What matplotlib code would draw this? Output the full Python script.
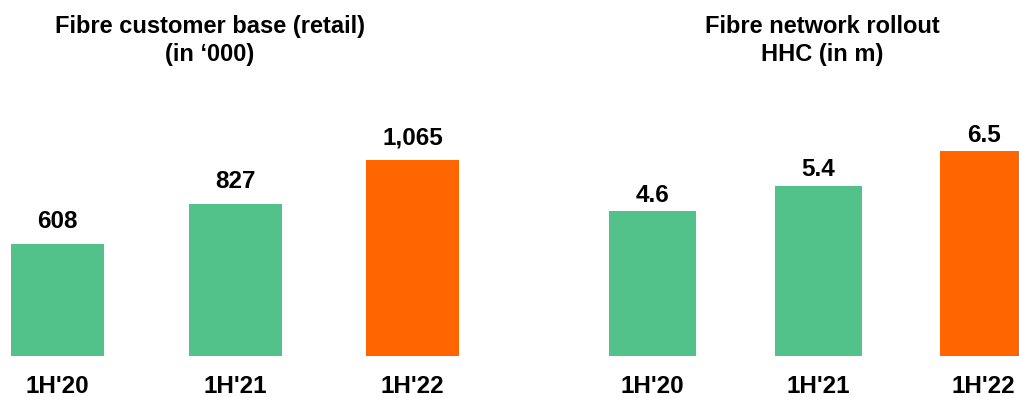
import matplotlib.pyplot as plt

# ── Data ───────────────────────────────────────────────────────────────────────
periods = ["1H'20", "1H'21", "1H'22"]
customers = [608, 827, 1065]           # in '000
customer_labels = ["608", "827", "1,065"]
homes = [4.6, 5.4, 6.5]                # HHC in m
home_labels = ["4.6", "5.4", "6.5"]

GREEN = "#52C18A"
ORANGE = "#FF6600"
colours = [GREEN, GREEN, ORANGE]

plt.rcParams["font.family"] = ["Liberation Sans", "DejaVu Sans"]
plt.rcParams["font.weight"] = "bold"

W, H = 1020, 398
fig = plt.figure(figsize=(W / 100, H / 100), dpi=100)

BASE = 42.5   # baseline, px from bottom
TOP = 300.0   # axes top, px from bottom
FS = 17.5


def panel(x0, x1, centre0, step, px_per_unit, values, labels, width, lab_gap):
    ax = fig.add_axes([x0 / W, BASE / H, (x1 - x0) / W, (TOP - BASE) / H])
    ax.set_xlim((x0 - centre0) / step, (x1 - centre0) / step)
    ax.set_ylim(0, (TOP - BASE) / px_per_unit)
    ax.bar(range(3), values, width=width, color=colours)
    for i, (v, lab) in enumerate(zip(values, labels)):
        ax.annotate(lab, (i, v), xytext=(0, lab_gap), textcoords="offset points",
                    ha="center", va="baseline", fontsize=FS, fontweight="bold")
        ax.annotate(periods[i], (i, 0), xytext=(0, -27), textcoords="offset points",
                    ha="center", va="baseline", fontsize=FS, fontweight="bold",
                    annotation_clip=False)
    ax.axis("off")
    return ax


panel(0, 500, 57.5, 177.5, 0.1833, customers, customer_labels, 93 / 177.5, 11.5)
panel(560, 1020, 652.5, 165.5, 31.48, homes, home_labels, 87 / 165.5, 6.5)

titles = [
    (210, ["Fibre customer base (retail)", "(in \u2018000)"]),
    (822, ["Fibre network rollout", "HHC (in m)"]),
]
for cx, lines in titles:
    for k, line in enumerate(lines):
        fig.text(cx / W, 1 - (33 + 28 * k) / H, line, ha="center", va="baseline",
                 fontsize=17, fontweight="bold")

fig.savefig("out.png", dpi=100, facecolor="white")
